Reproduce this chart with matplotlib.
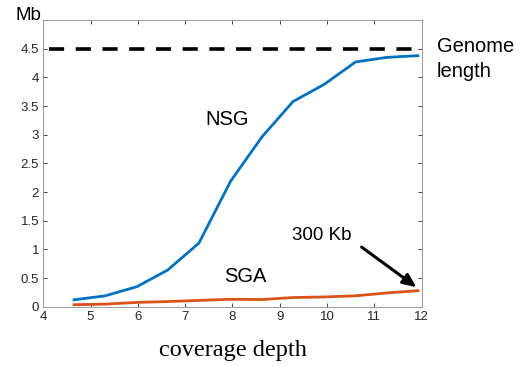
import matplotlib
matplotlib.use("Agg")
import matplotlib.pyplot as plt

coverage = [4.65, 5.31, 5.98, 6.63, 7.29, 7.96, 8.62, 9.28, 9.94, 10.60, 11.26, 11.92]
nsg = [0.12, 0.19, 0.35, 0.64, 1.11, 2.19, 2.96, 3.58, 3.88, 4.27, 4.35, 4.38]
sga = [0.035, 0.045, 0.075, 0.09, 0.11, 0.13, 0.125, 0.16, 0.17, 0.19, 0.24, 0.28]
genome_length = 4.5
genome_x = [4.12, 11.9]
xticks = [4, 5, 6, 7, 8, 9, 10, 11, 12]
yticks = [0, 0.5, 1, 1.5, 2, 2.5, 3, 3.5, 4, 4.5]
ytick_labels = ["0", "0.5", "1", "1.5", "2", "2.5", "3", "3.5", "4", "4.5"]

sans = ["Liberation Sans", "DejaVu Sans"]
plt.rcParams["font.family"] = sans

fig = plt.figure(figsize=(5.24, 3.66), dpi=100)
ax = fig.add_axes([0.0826, 0.162, 0.7222, 0.783])

ax.plot(genome_x, [genome_length, genome_length], color="black", lw=2.6,
        dashes=(4.2, 3.2), solid_capstyle="butt", dash_capstyle="butt")
ax.plot(coverage, nsg, color="#0072BD", lw=2.0)
ax.plot(coverage, sga, color="#D95319", lw=2.0)

ax.set_xlim(4, 12)
ax.set_ylim(0, 5)
ax.set_xticks(xticks)
ax.set_yticks(yticks)
ax.set_yticklabels(ytick_labels)
ax.tick_params(direction="in", length=3, width=0.6, colors="#262626",
               labelsize=9.5, top=True, right=True, pad=3)
for s in ax.spines.values():
    s.set_color("#a0a0a0")
    s.set_linewidth(0.8)

ax.set_xlabel("coverage depth", family=["Liberation Serif", "DejaVu Serif"],
              fontsize=17.5, labelpad=12)
fig.text(0.030, 0.945, "Mb", fontsize=13.5, va="baseline", ha="left")

ax.text(7.43, 3.26, "NSG", fontsize=14.5, va="center", ha="left")
ax.text(7.83, 0.52, "SGA", fontsize=14.5, va="center", ha="left")
ax.text(9.26, 1.25, "300 Kb", fontsize=13.5, va="center", ha="left")
ax.annotate("", xy=(11.89, 0.34), xytext=(10.73, 1.04),
            arrowprops=dict(arrowstyle="-|>,head_length=0.8,head_width=0.35",
                            color="black", lw=2.2, shrinkA=0, shrinkB=0))
ax.text(12.32, 4.32, "Genome\nlength", fontsize=14.5, va="center", ha="left",
        clip_on=False, linespacing=1.35)

fig.savefig("out.png", dpi=100)
